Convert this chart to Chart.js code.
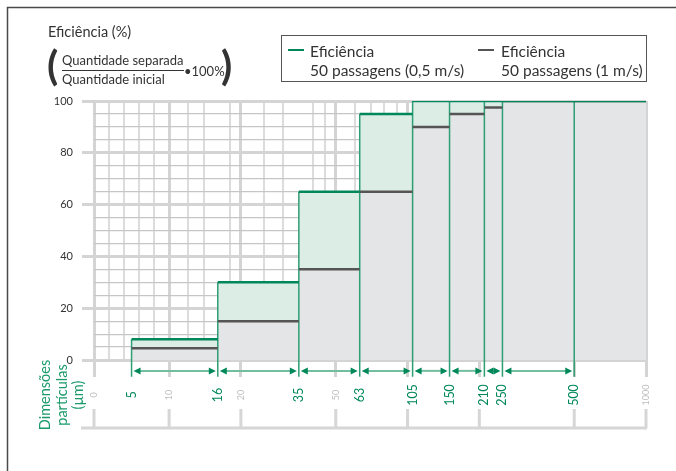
<!DOCTYPE html>
<html>
<head>
<meta charset="utf-8">
<script src="https://cdn.jsdelivr.net/npm/chart.js@4.4.1/dist/chart.umd.min.js"></script>
<style>
  body { margin: 0; background: #fff; }
  #wrap { width: 676px; height: 471px; }
</style>
</head>
<body>
<div id="wrap"><canvas id="effChart" width="676" height="471"></canvas></div>
<script>
// particle size class edges (µm) and efficiency (%) in each class
var sizeEdges = [5, 16, 35, 63, 105, 150, 210, 250, 500, 1000];
var effSlow = [8, 30, 65, 95, 100, 100, 100, 100, 100];    // 50 passagens (0,5 m/s)
var effFast = [4.5, 15, 35, 65, 90, 95, 97.5, 100, 100];   // 50 passagens (1 m/s)
var greenTickLabels = [5, 16, 35, 63, 105, 150, 210, 250, 500];
var greyTickLabels = [0, 10, 20, 50, 1000];
var majorX = [0, 10, 20, 50, 100, 200, 500, 1000];
var minorX = [2, 4, 6, 8, 12, 14, 18, 25, 30, 40, 45, 60, 70, 80, 90, 300, 400, 700];
var legendLabels = [['Eficiência', '50 passagens (0,5 m/s)'], ['Eficiência', '50 passagens (1 m/s)']];

var GREEN = '#00875a';
var FONT = 'Lato, "Noto Sans", sans-serif';

// linear from 0 to 10, logarithmic above (like the printed scale)
class SymLogScale extends Chart.LinearScale {
  toUnit(v) {
    var lm = this.options.linearMax, lw = this.options.linearWeight;
    return v <= lm ? lw * v / lm : lw + Math.log10(v / lm);
  }
  fromUnit(u) {
    var lm = this.options.linearMax, lw = this.options.linearWeight;
    return u <= lw ? u / lw * lm : lm * Math.pow(10, u - lw);
  }
  getPixelForValue(v) {
    if (v === null || v === undefined || isNaN(v)) return NaN;
    var a = this.toUnit(this.min), b = this.toUnit(this.max);
    return this.getPixelForDecimal((this.toUnit(v) - a) / (b - a));
  }
  getValueForPixel(p) {
    var a = this.toUnit(this.min), b = this.toUnit(this.max);
    return this.fromUnit(a + this.getDecimalForPixel(p) * (b - a));
  }
}
SymLogScale.id = 'symlog';
SymLogScale.defaults = {};
Chart.register(SymLogScale);

function stepPoints(vals) {
  var pts = vals.map(function(v, i) { return { x: sizeEdges[i], y: v }; });
  pts.push({ x: sizeEdges[sizeEdges.length - 1], y: vals[vals.length - 1] });
  return pts;
}
function flatPieces(vals) {
  var pts = [];
  vals.forEach(function(v, i) {
    pts.push({ x: sizeEdges[i], y: v }, { x: sizeEdges[i + 1], y: v }, { x: sizeEdges[i + 1], y: null });
  });
  return pts;
}
function edgeLines() {
  var pts = [];
  greenTickLabels.forEach(function(e, i) {
    pts.push({ x: e, y: effSlow[i] }, { x: e, y: -6.5 }, { x: e, y: null });
  });
  return pts;
}

var isMajorX = function(v) { return majorX.indexOf(v) >= 0; };

var decorPlugin = {
  id: 'decor',
  afterDraw: function(chart) {
    var c = chart.ctx, xs = chart.scales.x, ys = chart.scales.y;
    c.save();
    // frame
    c.strokeStyle = '#4a4a4a'; c.lineWidth = 1.5;
    c.beginPath(); c.moveTo(7.5, 471); c.lineTo(7.5, 7.5); c.lineTo(676, 7.5); c.stroke();

    // header
    c.fillStyle = '#333'; c.textBaseline = 'middle'; c.textAlign = 'left';
    c.font = '14.5px ' + FONT;
    c.fillText('Eficiência (%)', 48, 32);
    c.font = 'bold 41px ' + FONT;
    c.fillText('(', 47, 67);
    c.fillText(')', 221, 67);
    c.font = '13px ' + FONT;
    c.fillText('Quantidade separada', 62, 61);
    c.fillText('Quantidade inicial', 62, 80);
    c.fillText('•100%', 184, 72);
    c.strokeStyle = '#333'; c.lineWidth = 1;
    c.beginPath(); c.moveTo(62, 70.5); c.lineTo(184, 70.5); c.stroke();

    // legend
    c.strokeStyle = '#555'; c.lineWidth = 1;
    c.strokeRect(281.5, 35.5, 365, 46);
    c.lineWidth = 2;
    c.strokeStyle = GREEN;
    c.beginPath(); c.moveTo(288, 50); c.lineTo(304, 50); c.stroke();
    c.strokeStyle = '#555';
    c.beginPath(); c.moveTo(478, 50); c.lineTo(494, 50); c.stroke();
    c.font = '15.5px ' + FONT; c.fillStyle = '#333';
    c.fillText(legendLabels[0][0], 310, 52);
    c.fillText(legendLabels[0][1], 310, 71);
    c.fillText(legendLabels[1][0], 501, 52);
    c.fillText(legendLabels[1][1], 501, 71);

    // size-range arrows
    var ay = ys.getPixelForValue(-4.2);
    for (var i = 0; i < greenTickLabels.length - 1; i++) {
      var x0 = xs.getPixelForValue(greenTickLabels[i]) + 2;
      var x1 = xs.getPixelForValue(greenTickLabels[i + 1]) - 2;
      c.strokeStyle = '#72bf9f'; c.lineWidth = 2;
      c.beginPath(); c.moveTo(x0 + 4, ay); c.lineTo(x1 - 4, ay); c.stroke();
      c.fillStyle = GREEN;
      c.beginPath(); c.moveTo(x0, ay); c.lineTo(x0 + 7, ay - 3.5); c.lineTo(x0 + 7, ay + 3.5); c.fill();
      c.beginPath(); c.moveTo(x1, ay); c.lineTo(x1 - 7, ay - 3.5); c.lineTo(x1 - 7, ay + 3.5); c.fill();
    }

    // rotated size labels
    c.textAlign = 'center'; c.textBaseline = 'middle';
    greenTickLabels.forEach(function(v) {
      c.save(); c.translate(xs.getPixelForValue(v), 395); c.rotate(-Math.PI / 2);
      c.font = '12.5px ' + FONT; c.fillStyle = GREEN; c.fillText(String(v), 0, 0);
      c.restore();
    });
    greyTickLabels.forEach(function(v) {
      c.save(); c.translate(xs.getPixelForValue(v), 395); c.rotate(-Math.PI / 2);
      c.font = '9px ' + FONT; c.fillStyle = '#bdbdbd'; c.fillText(String(v), 0, 0);
      c.restore();
    });

    // lower reference axis
    c.strokeStyle = '#d6d6d6'; c.lineWidth = 3;
    c.beginPath(); c.moveTo(81, 428); c.lineTo(xs.right + 1, 428); c.stroke();
    majorX.forEach(function(v) {
      var px = xs.getPixelForValue(v);
      c.beginPath(); c.moveTo(px, 409); c.lineTo(px, 428); c.stroke();
    });

    // axis title
    c.save(); c.translate(62, 395); c.rotate(-Math.PI / 2);
    c.font = '14.5px ' + FONT; c.fillStyle = '#1b9a6c';
    ['Dimensões', 'partículas', '(µm)'].forEach(function(t, k) { c.fillText(t, 0, (k - 1) * 16.5); });
    c.restore();
    c.restore();
  }
};

var config = {
  type: 'line',
  data: {
    datasets: [
      { data: stepPoints(effFast), stepped: 'before', fill: 'origin', backgroundColor: '#e4e5e7', borderWidth: 0, pointRadius: 0, order: 5 },
      { data: stepPoints(effSlow), stepped: 'before', fill: 'origin', backgroundColor: '#dcede6', borderWidth: 0, pointRadius: 0, order: 6 },
      { data: edgeLines(), borderColor: '#2e9e74', borderWidth: 1.5, pointRadius: 0, spanGaps: false, clip: false, order: 3 },
      { data: flatPieces(effFast), borderColor: '#555', borderWidth: 2.5, pointRadius: 0, spanGaps: false, order: 2 },
      { data: flatPieces(effSlow), borderColor: GREEN, borderWidth: 2.5, pointRadius: 0, spanGaps: false, order: 1 }
    ]
  },
  options: {
    responsive: false,
    animation: false,
    events: [],
    layout: { padding: { top: 101, right: 30, bottom: 91, left: 20 } },
    plugins: { legend: { display: false }, tooltip: { enabled: false } },
    scales: {
      x: {
        type: 'symlog', min: 0, max: 1000, linearMax: 10, linearWeight: 0.315,
        afterBuildTicks: function(s) {
          s.ticks = majorX.concat(minorX).sort(function(a, b) { return a - b; }).map(function(v) { return { value: v }; });
        },
        afterFit: function(s) { s.height = 20; },
        border: { display: false },
        ticks: { display: false, autoSkip: false },
        grid: {
          color: function(ctx) { return isMajorX(ctx.tick.value) ? '#d4d4d4' : '#dcdcdc'; },
          lineWidth: function(ctx) { return isMajorX(ctx.tick.value) ? 3 : 2; },
          tickLength: 17,
          tickColor: function(ctx) { return isMajorX(ctx.tick.value) ? '#d4d4d4' : 'rgba(0,0,0,0)'; },
          tickWidth: 3
        }
      },
      y: {
        min: 0, max: 100,
        afterFit: function(s) { s.width = 74; },
        border: { display: false },
        ticks: {
          stepSize: 5, autoSkip: false, padding: 9, color: '#333',
          font: { size: 11, family: FONT },
          callback: function(v) { return v % 20 === 0 ? v : ''; }
        },
        grid: {
          color: function(ctx) { return ctx.tick.value % 20 === 0 ? '#d4d4d4' : '#c6c6c6'; },
          lineWidth: function(ctx) { return ctx.tick.value % 20 === 0 ? 3 : 1.2; },
          tickLength: 12,
          tickColor: function(ctx) { return ctx.tick.value % 20 === 0 ? '#d4d4d4' : 'rgba(0,0,0,0)'; },
          tickWidth: 3
        }
      }
    }
  },
  plugins: [decorPlugin]
};

var ctx = document.getElementById('effChart').getContext('2d');
window.effChart = new Chart(ctx, config);
</script>
</body>
</html>
